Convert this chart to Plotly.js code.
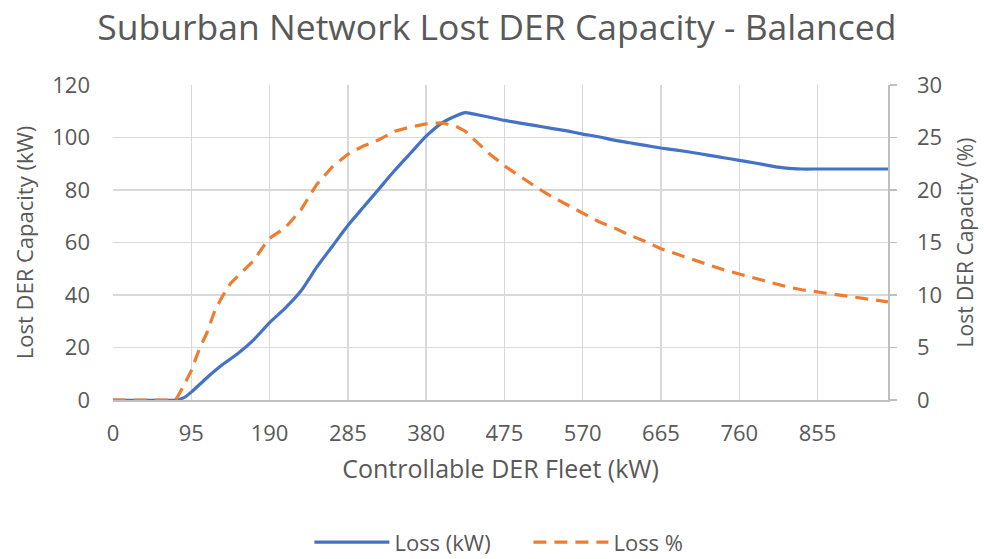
<!DOCTYPE html>
<html>
<head>
<meta charset="utf-8">
<script src="https://cdn.plot.ly/plotly-3.0.1.min.js"></script>
<style>html,body{margin:0;padding:0;background:#fff;}#chart{width:984px;height:559px;}</style>
</head>
<body>
<div id="chart"></div>
<script>
var lossX = [0, 76, 85.5, 95, 114, 133, 152, 171, 190, 209, 228, 247, 266, 285, 304, 323, 342, 361, 380, 399, 418, 427.5, 437, 456, 475, 494, 513, 532, 551, 570, 589, 608, 627, 646, 665, 684, 703, 722, 741, 760, 779, 798, 817, 836, 855, 874, 893, 912, 940.5];
var lossKW = [0, 0, 0.8, 3, 8.5, 13.5, 17.8, 23, 29.5, 35, 41.5, 50.5, 58.5, 66.5, 73.5, 80.5, 87.5, 94, 100.5, 105.5, 108.5, 109.5, 109, 107.8, 106.5, 105.5, 104.5, 103.5, 102.5, 101.3, 100.3, 99, 98, 97, 96, 95.2, 94.3, 93.3, 92.3, 91.3, 90.3, 89.2, 88.3, 88, 88, 88, 88, 88, 88];

var pctX = [0, 76, 85.5, 95, 104.5, 114, 123.5, 133, 142.5, 152, 161.5, 171, 180.5, 190, 209, 228, 247, 266, 285, 304, 323, 342, 361, 380, 399, 418, 427.5, 437, 456, 475, 494, 513, 532, 551, 570, 589, 608, 627, 646, 665, 684, 703, 722, 741, 760, 779, 798, 817, 836, 855, 874, 893, 912, 940.5];
var lossPct = [0, 0, 1.3, 2.8, 4.8, 6.4, 8.5, 9.9, 11.1, 11.8, 12.5, 13.3, 14.4, 15.4, 16.4, 18.1, 20.5, 22.2, 23.4, 24.2, 24.8, 25.6, 26.0, 26.3, 26.4, 26.0, 25.6, 24.9, 23.5, 22.3, 21.3, 20.3, 19.4, 18.6, 17.8, 17.0, 16.4, 15.7, 15.1, 14.4, 13.9, 13.4, 12.9, 12.4, 12.0, 11.6, 11.2, 10.8, 10.5, 10.3, 10.1, 9.85, 9.65, 9.35];

var xTicks = [0, 95, 190, 285, 380, 475, 570, 665, 760, 855];
var yLeftTicks = [0, 20, 40, 60, 80, 100, 120];
var yRightTicks = [0, 5, 10, 15, 20, 25, 30];

var FONT = '"Open Sans", sans-serif';
var GREY = '#595959';

var traces = [
  {x: lossX, y: lossKW, name: 'Loss (kW)', type: 'scatter', mode: 'lines',
   line: {color: '#4472C4', width: 3.2, shape: 'spline', smoothing: 0.5}, yaxis: 'y'},
  {x: pctX, y: lossPct, name: 'Loss %', type: 'scatter', mode: 'lines',
   line: {color: '#ED7D31', width: 3.2, dash: '13px,8px'}, yaxis: 'y2'}
];

var layout = {
  width: 984, height: 559,
  paper_bgcolor: '#fff', plot_bgcolor: '#fff',
  margin: {l: 113, r: 96, t: 85, b: 159},
  font: {family: FONT, color: GREY, size: 22},
  title: {text: 'Suburban Network Lost DER Capacity - Balanced', font: {size: 35.5, color: GREY, family: FONT}, x: 0.505, xanchor: 'center', y: 0.95, yanchor: 'middle'},
  xaxis: {range: [0, 940.5], tickvals: xTicks, ticktext: xTicks.map(String), showgrid: true, gridcolor: '#d9d9d9', gridwidth: 1.5,
          showline: true, linecolor: '#bfbfbf', linewidth: 1.5, zeroline: false, ticks: '', ticklabelstandoff: 13,
          title: {text: 'Controllable DER Fleet (kW)', font: {size: 25, color: GREY}, standoff: 14}, tickfont: {size: 22, color: GREY}},
  yaxis: {range: [0, 120], tickvals: yLeftTicks, showgrid: true, gridcolor: '#d9d9d9', gridwidth: 1.5, zeroline: false,
          ticks: '', showline: false, tickfont: {size: 22, color: GREY}, ticklabelstandoff: 22,
          title: {text: 'Lost DER Capacity (kW)', font: {size: 22, color: GREY}, standoff: 12}},
  yaxis2: {range: [0, 30], tickvals: yRightTicks, overlaying: 'y', side: 'right', showgrid: false, zeroline: false,
           showline: true, linecolor: '#bfbfbf', linewidth: 1.5, ticks: 'outside', ticklen: 7, tickwidth: 1.5, tickcolor: '#bfbfbf',
           tickfont: {size: 22, color: GREY}, ticklabelstandoff: 16,
           title: {text: 'Lost DER Capacity (%)', font: {size: 21, color: GREY}, standoff: 17}},
  showlegend: true,
  legend: {orientation: 'h', x: 0.537, xanchor: 'center', xref: 'container', yref: 'container', y: 0.03, yanchor: 'middle',
           font: {size: 22, color: GREY}, itemwidth: 75, entrywidth: 129, entrywidthmode: 'pixels', traceorder: 'normal'}
};

Plotly.newPlot('chart', traces, layout, {displayModeBar: false, staticPlot: true});
</script>
</body>
</html>
